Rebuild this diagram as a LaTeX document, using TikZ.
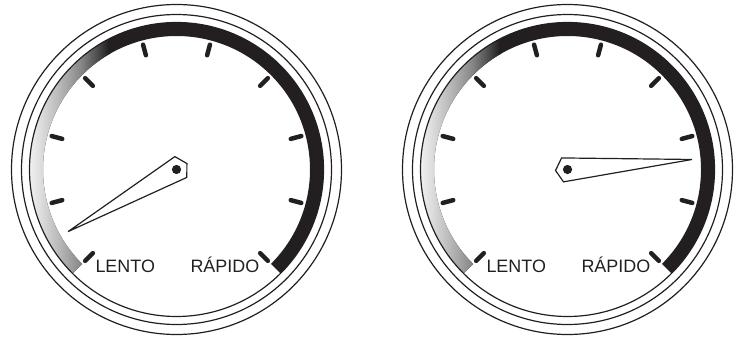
\documentclass[tikz,border=0pt]{standalone}
\usepackage{fontspec}
\setmainfont{Liberation Sans}
\definecolor{ink}{HTML}{231F20}
\definecolor{ga}{gray}{0.95}
\definecolor{gb}{gray}{0.86}
\definecolor{gc}{gray}{0.66}
\definecolor{gd}{gray}{0.52}
\definecolor{ge}{gray}{0.28}
\pgfdeclarehorizontalshading{bandshade}{320bp}{color(0bp)=(ga); color(13bp)=(gb); color(38bp)=(gc); color(53bp)=(gd); color(70bp)=(ge); color(80bp)=(ink); color(82bp)=(ink)}
\tikzset{
  ring/.style={draw=ink, line width=1.2},
  tickmark/.style={draw=ink, line width=4.5, line cap=round},
  needle/.style={draw=ink, fill=white, line width=1.2, line join=miter},
  label/.style={inner sep=0, outer sep=0, anchor=base west, text=ink, font=\fontsize{18}{18}\selectfont},
}
\begin{document}
\begin{tikzpicture}[x=1bp, y=1bp]
\useasboundingbox (0,0) rectangle (739,339);
\foreach \cx/\ang/\i in {176.5/209.8/1, 567.5/4.6/2}{
  \begin{scope}[shift={(\cx,169.5)}]
    % coloured band
    \begin{scope}
      \clip (225:147) arc[start angle=225, end angle=-45, radius=147]
        -- (-45:133.5) arc[start angle=-45, end angle=225, radius=133.5] -- cycle;
      \fill[ink] (-150,-150) rectangle (150,150);
      \node[inner sep=0, outer sep=0, anchor=west] (shade\i) at (-148,0) {\pgfuseshading{bandshade}};
    \end{scope}
    % rings
    \draw[ring] (0,0) circle (165);
    \draw[ring] (0,0) circle (155);
    \draw[ring] (0,0) circle (147);
    % ticks
    \foreach \a in {225,195,...,-45}{
      \draw[tickmark] (\a:118.3) -- (\a:129.2);
    }
    % needle
    \begin{scope}[rotate=\ang]
      \draw[needle] (125,0) -- (-5,12) -- (-12,0) -- (-5,-12) -- cycle;
    \end{scope}
    \fill[ink] (0,0) circle (4.6);
    % labels
    \node[label] (lento\i) at (-81,-103) {LENTO};
    \node[label] (rapido\i) at (14,-103) {RÁPIDO};
  \end{scope}
}
\end{tikzpicture}
\end{document}
